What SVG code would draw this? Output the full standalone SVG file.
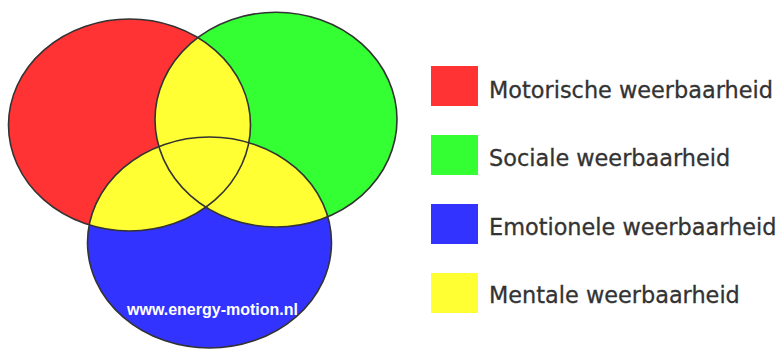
<svg xmlns="http://www.w3.org/2000/svg" width="779" height="349" viewBox="0 0 779 349">
  <style>
    .red { fill: #ff3333; }
    .green { fill: #33ff33; }
    .blue { fill: #3333ff; }
    .yellow { fill: #ffff33; }
    .outline { fill: none; stroke: #333333; stroke-width: 1.6; }
    .legend-text { font-family: "DejaVu Sans", Verdana, sans-serif; font-size: 22.4px; fill: #333333; stroke: #333333; stroke-width: 0.3; }
    .url { font-family: "Liberation Sans", Arial, sans-serif; font-weight: bold; font-size: 16px; fill: #ffffff; }
  </style>
  <defs>
    <ellipse id="e-red" cx="129.5" cy="125" rx="121" ry="106"/>
    <ellipse id="e-green" cx="276" cy="119.6" rx="121" ry="107.4"/>
    <ellipse id="e-blue" cx="209.5" cy="242.5" rx="122" ry="105.5"/>
    <clipPath id="clip-green"><use href="#e-green"/></clipPath>
    <clipPath id="clip-blue"><use href="#e-blue"/></clipPath>
  </defs>

  <!-- Venn circles -->
  <g id="venn">
    <g id="motorisch"><use href="#e-red" class="red"/></g>
    <g id="sociaal"><use href="#e-green" class="green"/></g>
    <g id="emotioneel"><use href="#e-blue" class="blue"/></g>
    <!-- overlaps: mental resilience -->
    <g id="mentaal">
      <use href="#e-red" class="yellow" clip-path="url(#clip-green)"/>
      <use href="#e-red" class="yellow" clip-path="url(#clip-blue)"/>
      <use href="#e-green" class="yellow" clip-path="url(#clip-blue)"/>
    </g>
    <g id="outlines">
      <use href="#e-red" class="outline"/>
      <use href="#e-green" class="outline"/>
      <use href="#e-blue" class="outline"/>
    </g>
    <text class="url" x="127" y="315">www.energy-motion.nl</text>
  </g>

  <!-- Legend -->
  <g id="legend">
    <g id="legend-motorisch">
      <rect class="red" x="431" y="66" width="47" height="40"/>
      <text class="legend-text" x="489" y="98">Motorische weerbaarheid</text>
    </g>
    <g id="legend-sociaal">
      <rect class="green" x="431" y="135" width="47" height="40"/>
      <text class="legend-text" x="489" y="166">Sociale weerbaarheid</text>
    </g>
    <g id="legend-emotioneel">
      <rect class="blue" x="431" y="204" width="47" height="40"/>
      <text class="legend-text" x="489" y="235">Emotionele weerbaarheid</text>
    </g>
    <g id="legend-mentaal">
      <rect class="yellow" x="431" y="273" width="47" height="40"/>
      <text class="legend-text" x="489" y="303">Mentale weerbaarheid</text>
    </g>
  </g>
</svg>
